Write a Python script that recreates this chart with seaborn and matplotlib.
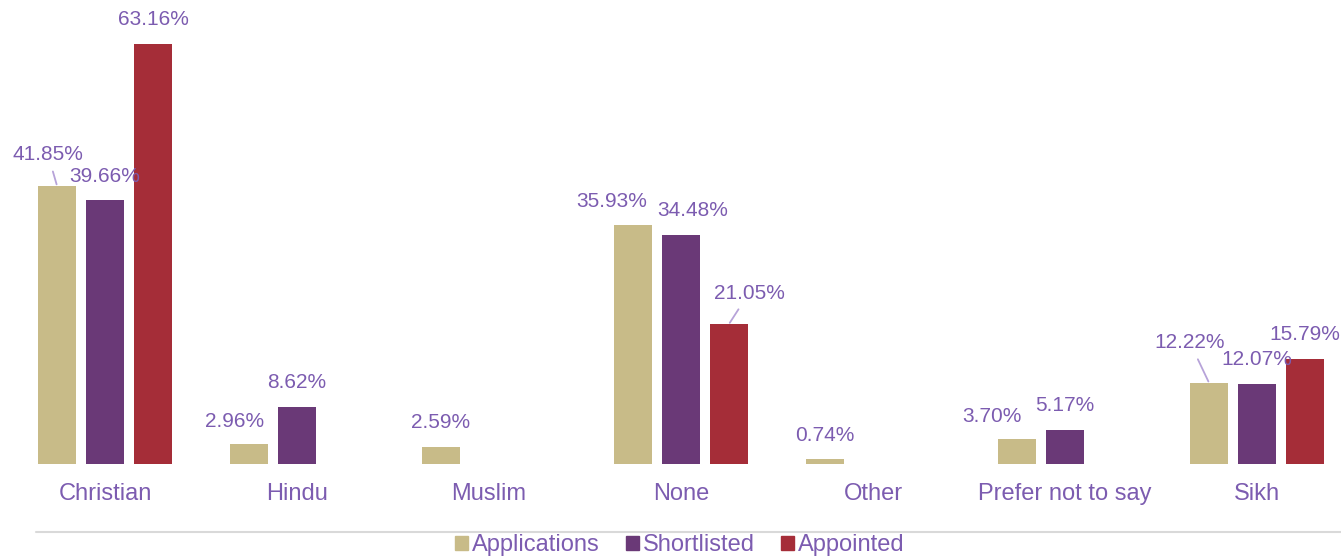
import matplotlib
matplotlib.use("Agg")
import matplotlib.pyplot as plt
from matplotlib.lines import Line2D
import seaborn as sns
import pandas as pd

# Religion breakdown across recruitment stages (percent)
categories = ["Christian", "Hindu", "Muslim", "None", "Other", "Prefer not to say", "Sikh"]
applications = [41.85, 2.96, 2.59, 35.93, 0.74, 3.70, 12.22]
shortlisted = [39.66, 8.62, 0.0, 34.48, 0.0, 5.17, 12.07]
appointed = [63.16, 0.0, 0.0, 21.05, 0.0, 0.0, 15.79]
series_names = ["Applications", "Shortlisted", "Appointed"]

colors = ["#C8BB88", "#6A3977", "#A52D38"]
text_color = "#7C5CB0"
leader_color = "#B7A3D9"

# Label placement tweaks (pixels, relative to bar top); True = draw leader line
label_adjust = {
    ("Christian", "Applications"): (-9, 31, True),
    ("Hindu", "Applications"): (-14, 23, False),
    ("None", "Applications"): (-21, 24, False),
    ("None", "Shortlisted"): (12, 24, False),
    ("None", "Appointed"): (20, 31, True),
    ("Prefer not to say", "Applications"): (-25, 23, False),
    ("Sikh", "Applications"): (-19, 40, True),
}

df = pd.DataFrame({
    "category": categories * 3,
    "series": [s for s in series_names for _ in categories],
    "value": applications + shortlisted + appointed,
})

sns.set_theme(style="white")
plt.rcParams["font.family"] = ["Liberation Sans", "DejaVu Sans"]

W, H = 1341, 558
fig = plt.figure(figsize=(W / 100, H / 100), dpi=100)
ax = fig.add_axes([9 / W, (H - 464) / H, 1344 / W, 464 / H])

sns.barplot(data=df, x="category", y="value", hue="series", order=categories,
            hue_order=series_names, palette=colors, saturation=1, width=0.75,
            gap=0.21, linewidth=0, errorbar=None, ax=ax, legend=False)

ax.set_xlim(-0.5, 6.5)
ax.set_ylim(0, 464 / 6.65)
for s in ax.spines.values():
    s.set_visible(False)
ax.set_xlabel("")
ax.set_ylabel("")
ax.set_yticks([])
ax.tick_params(axis="x", length=0, pad=13.5, labelsize=17, labelcolor=text_color)

# Value labels above each non-zero bar
for series, container in zip(series_names, ax.containers):
    for cat, patch in zip(categories, container.patches):
        h = patch.get_height()
        if h <= 0:
            continue
        xc = patch.get_x() + patch.get_width() / 2
        dx, dy, leader = label_adjust.get((cat, series), (0, 24, False))
        arrow = dict(arrowstyle="-", color=leader_color, lw=1.3,
                     shrinkA=3, shrinkB=1) if leader else None
        ax.annotate(f"{h:.2f}%", xy=(xc, h), xytext=(dx, dy),
                    textcoords="offset pixels", ha="center", va="center",
                    fontsize=15, color=text_color, arrowprops=arrow,
                    annotation_clip=False)

# Separator line above the legend
fig.add_artist(Line2D([36 / W, 1.0], [1 - 532 / H] * 2, color="#D9D9D9", lw=1.5,
                      transform=fig.transFigure))

handles = [plt.Rectangle((0, 0), 1, 1, color=c) for c in colors]
fig.legend(handles, series_names, loc="center", bbox_to_anchor=(0.507, 1 - 545 / H),
           ncol=3, frameon=False, fontsize=17, labelcolor=text_color,
           handlelength=0.55, handleheight=0.55, handletextpad=0.17,
           columnspacing=1.1, borderpad=0, borderaxespad=0)

fig.savefig("out.png", dpi=100)
